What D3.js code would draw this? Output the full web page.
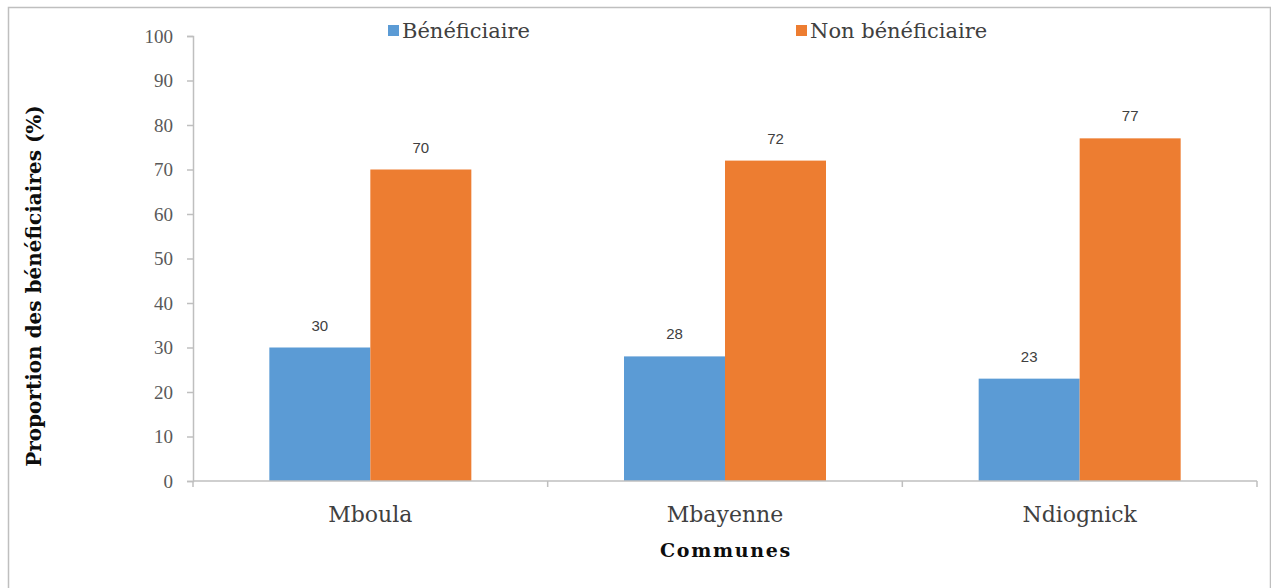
<!DOCTYPE html>
<html><head><meta charset="utf-8">
<script src="https://cdn.jsdelivr.net/npm/d3@7"></script>
<style>body{margin:0;background:#fff}svg{display:block}</style>
</head><body>
<script>
const communes = ["Mboula", "Mbayenne", "Ndiognick"];
const seriesNames = ["Bénéficiaire", "Non bénéficiaire"];
const beneficiaire = [30, 28, 23];
const nonBeneficiaire = [70, 72, 77];
const yTicks = [0, 10, 20, 30, 40, 50, 60, 70, 80, 90, 100];
const colors = ["#5B9BD5", "#ED7D31"];

(function () {
const W = 1271, H = 588;
const svg = d3.select("body").append("svg").attr("width", W).attr("height", H);
svg.append("rect").attr("x", 8.5).attr("y", 7.5).attr("width", 1262).attr("height", 590)
  .attr("fill", "#fff").attr("stroke", "#bfbfbf").attr("stroke-width", 1.5);

const pLeft = 193, pRight = 1257, pTop = 36, pBottom = 481;
const x = d3.scaleBand().domain(communes).range([pLeft, pRight]).paddingInner(0).paddingOuter(0);
const x1 = d3.scaleBand().domain(seriesNames).range([0, 202]);
const y = d3.scaleLinear().domain([0, 100]).range([pBottom, pTop]);
const serif = "'Liberation Serif', 'DejaVu Serif', serif";
const wide = "'DejaVu Serif', 'Liberation Serif', serif";

const yAxis = svg.append("g").attr("transform", `translate(${pLeft},0)`)
  .call(d3.axisLeft(y).tickValues(yTicks).tickSize(6).tickPadding(14));
yAxis.select(".domain").attr("stroke", "#bfbfbf").attr("stroke-width", 1.5);
yAxis.selectAll(".tick line").attr("stroke", "#bfbfbf").attr("stroke-width", 1.5);
yAxis.selectAll(".tick text").attr("font-family", serif).attr("font-size", 19).attr("fill", "#595959");

const data = [beneficiaire, nonBeneficiaire];
data.forEach((vals, si) => {
  const g = svg.append("g");
  const bx = i => x(communes[i]) + (x.bandwidth() - 202) / 2 + x1(seriesNames[si]);
  g.selectAll("rect").data(vals).join("rect")
    .attr("x", (d, i) => bx(i))
    .attr("y", d => y(d))
    .attr("width", x1.bandwidth())
    .attr("height", d => pBottom - y(d))
    .attr("fill", colors[si]);
  g.selectAll("text").data(vals).join("text")
    .attr("x", (d, i) => bx(i) + x1.bandwidth() / 2)
    .attr("y", d => y(d) - 17)
    .attr("text-anchor", "middle")
    .attr("font-family", "'Liberation Sans', Arial, sans-serif")
    .attr("font-size", 15).attr("fill", "#404040")
    .text(d => d);
});

const xAxis = svg.append("g").attr("transform", `translate(0,${pBottom})`)
  .call(d3.axisBottom(x).tickSize(0).tickPadding(25));
xAxis.select(".domain").attr("stroke", "#bfbfbf").attr("stroke-width", 1.5)
  .attr("d", `M${pLeft},0H${pRight}`);
xAxis.selectAll(".tick text").attr("font-family", wide).attr("font-size", 22).attr("fill", "#404040");
const bounds = communes.map(c => x(c)).concat([pRight]);
svg.append("g").selectAll("line").data(bounds).join("line")
  .attr("x1", d => d).attr("x2", d => d).attr("y1", pBottom).attr("y2", pBottom + 6)
  .attr("stroke", "#bfbfbf").attr("stroke-width", 1.5);

svg.append("text").attr("x", (pLeft + pRight) / 2 + 1).attr("y", 557)
  .attr("text-anchor", "middle").attr("font-family", wide).attr("font-weight", "bold")
  .attr("font-size", 19).attr("letter-spacing", 1.7).attr("fill", "#0d0d0d").text("Communes");
svg.append("text").attr("transform", "translate(41,286) rotate(-90)")
  .attr("text-anchor", "middle").attr("font-family", wide).attr("font-weight", "bold")
  .attr("font-size", 20).attr("fill", "#0d0d0d").text("Proportion des bénéficiaires (%)");

const legendX = [388, 796];
seriesNames.forEach((n, i) => {
  svg.append("rect").attr("x", legendX[i]).attr("y", 25).attr("width", 11).attr("height", 11).attr("fill", colors[i]);
  svg.append("text").attr("x", legendX[i] + 14).attr("y", 38)
    .attr("font-family", wide).attr("font-size", 21).attr("fill", "#404040").text(n);
});
})();
</script>
</body></html>
